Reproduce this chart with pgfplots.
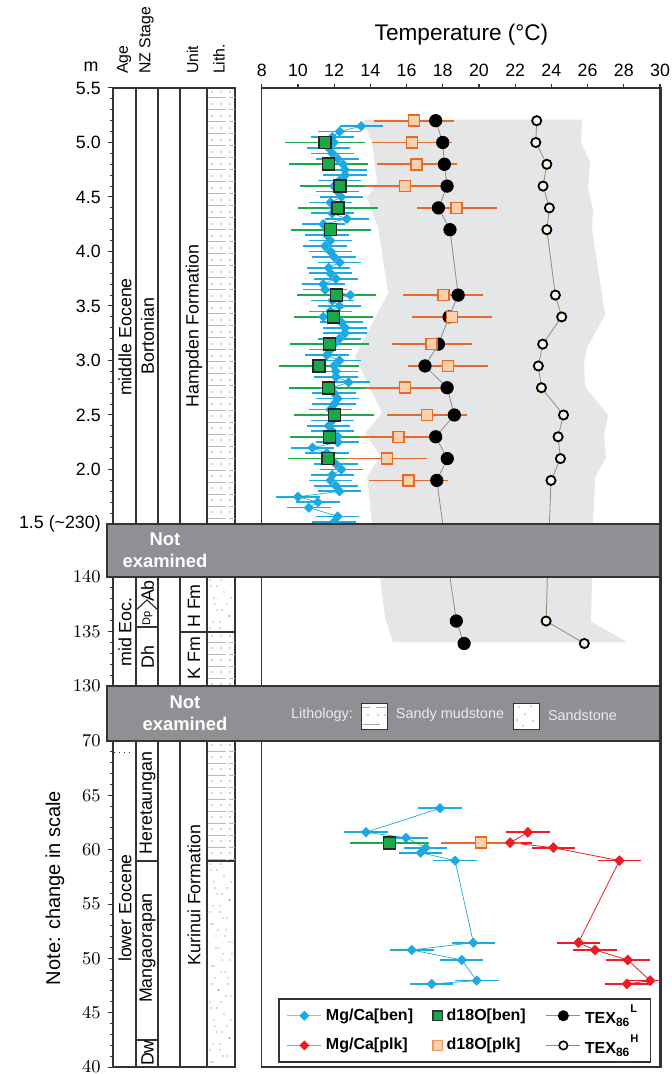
\documentclass[border=0pt]{standalone}
\usepackage{pgfplots}
\pgfplotsset{compat=1.18}
\usepackage{pgfplotstable}
\usepackage{fontspec}
\setmainfont{Liberation Sans}

\definecolor{mgben}{HTML}{1CA9E1}
\definecolor{mgplk}{HTML}{EC1C24}
\definecolor{gben}{HTML}{1BA84A}
\definecolor{oplk}{HTML}{E86A2A}
\definecolor{peach}{HTML}{FCD0A8}
\definecolor{texh}{HTML}{F7F4E6}
\definecolor{envel}{HTML}{E5E6E7}
\definecolor{band}{HTML}{8F9093}
\definecolor{frame}{HTML}{333333}
\definecolor{lighttxt}{HTML}{EBEBEB}

\newcommand\tickfont{\fontsize{8.9}{10.6}\selectfont}
\newcommand\headfont{\fontsize{7.9}{9.4}\selectfont}
\newcommand\legfont{\fontsize{8.0}{9.0}\selectfont\bfseries}

% ---------- data (x = temperature, y = height) ----------
\pgfplotstableread{
x y
13.5 5.15
12.3 5.10
11.9 5.05
12.0 5.00
11.7 4.95
11.9 4.90
12.2 4.85
12.5 4.80
12.6 4.75
12.6 4.70
12.3 4.65
12.0 4.60
12.2 4.55
12.4 4.50
11.8 4.45
12.0 4.40
11.9 4.35
12.7 4.30
11.4 4.25
11.6 4.20
11.6 4.15
11.8 4.10
11.5 4.05
11.8 4.00
12.0 3.95
12.3 3.90
11.7 3.85
11.8 3.80
12.1 3.75
11.4 3.70
11.5 3.65
12.9 3.60
11.9 3.55
12.3 3.50
11.8 3.45
11.4 3.40
12.4 3.35
12.6 3.30
12.6 3.25
12.3 3.20
12.0 3.15
11.8 3.10
11.6 3.05
12.3 3.00
12.0 2.95
12.1 2.90
12.1 2.85
12.8 2.80
11.9 2.75
12.0 2.70
12.2 2.65
12.0 2.60
11.8 2.55
12.1 2.50
11.9 2.45
11.7 2.40
11.9 2.35
12.2 2.30
12.2 2.25
10.8 2.20
11.6 2.15
11.8 2.10
12.1 2.05
12.4 2.00
11.9 1.95
11.8 1.90
12.1 1.85
12.3 1.80
10.0 1.75
11.1 1.70
10.6 1.65
12.2 1.57
12.0 1.52
}\mgbenU

\pgfplotstableread{
x y
11.50 5.00
11.68 4.80
12.34 4.60
12.23 4.40
11.81 4.20
12.14 3.60
11.96 3.40
11.75 3.15
11.15 2.95
11.68 2.75
12.01 2.50
11.74 2.30
11.66 2.10
}\gbenU

\pgfplotstableread{
x y
16.42 5.20
16.29 5.00
16.56 4.80
15.92 4.60
18.77 4.40
18.03 3.60
18.50 3.40
17.39 3.15
18.28 2.95
15.92 2.75
17.12 2.50
15.55 2.30
14.91 2.10
16.10 1.90
}\oplkU

\pgfplotstableread{
x y
17.61 5.20
18.00 5.00
18.09 4.80
18.24 4.60
17.76 4.40
18.40 4.20
18.85 3.60
18.35 3.40
17.76 3.15
17.02 2.95
18.24 2.75
18.64 2.50
17.61 2.30
18.25 2.10
17.67 1.90
}\texlU

\pgfplotstableread{
x y
23.19 5.20
23.14 5.00
23.75 4.80
23.54 4.60
23.89 4.40
23.75 4.20
24.22 3.60
24.57 3.40
23.52 3.15
23.28 2.95
23.45 2.75
24.67 2.50
24.37 2.30
24.50 2.10
23.98 1.90
}\texhU

\pgfplotstableread{
x y
18.75 135.96
19.18 133.90
}\texlM

\pgfplotstableread{
x y
23.71 135.96
25.82 133.90
}\texhM

\pgfplotstableread{
x y
17.85 63.81
13.76 61.60
15.97 61.10
17.06 60.18
16.78 59.72
18.68 58.99
19.69 51.44
16.29 50.77
19.05 49.85
19.88 47.95
17.39 47.64
}\mgbenL

\pgfplotstableread{
x y
22.70 61.60
21.72 60.64
24.11 60.18
27.76 58.99
25.49 51.44
26.41 50.77
28.22 49.85
29.45 47.95
28.17 47.64
}\mgplkL

\pgfplotsset{
  strat/.style={scale only axis, width=61pt, xmin=0, xmax=1, xtick=\empty,
    ytick pos=left, tick align=outside, major tick length=2.6pt, minor tick length=1.4pt,
    axis line style={line width=0.7pt, draw=frame}, tick style={frame, line width=0.5pt},
    yticklabel style={font=\tickfont}, minor y tick num=4, anchor=north west},
  panel/.style={scale only axis, width=199.15pt, xmin=8, xmax=30, ytick=\empty,
    axis line style={line width=0.7pt, draw=frame}, tick style={frame, line width=0.6pt},
    anchor=north west},
  mgb/.style={mgben, line width=0.35pt, mark=square*, mark size=1.7pt,
    mark options={rotate=45, fill=mgben, draw=mgben, line width=0.2pt},
    error bars/x dir=both, error bars/x fixed=1.2, error bars/error mark=none,
    error bars/error bar style={line width=0.85pt, mgben}},
  mgp/.style={mgplk, line width=0.4pt, mark=square*, mark size=1.8pt,
    mark options={rotate=45, fill=mgplk, draw=mgplk, line width=0.2pt},
    error bars/x dir=both, error bars/x fixed=1.2, error bars/error mark=none,
    error bars/error bar style={line width=0.85pt, mgplk}},
  gb/.style={only marks, mark=square*, mark size=3pt,
    mark options={fill=gben, draw=black!85, line width=0.8pt},
    error bars/x dir=both, error bars/x fixed=2.2, error bars/error mark=none,
    error bars/error bar style={line width=0.85pt, gben}},
  op/.style={only marks, mark=square*, mark size=2.75pt,
    mark options={fill=peach, draw=oplk, line width=0.75pt},
    error bars/x dir=both, error bars/x fixed=2.2, error bars/error mark=none,
    error bars/error bar style={line width=0.85pt, oplk}},
  tl/.style={only marks, mark=*, mark size=3.1pt, mark options={fill=black, draw=black}},
  th/.style={only marks, mark=*, mark size=2.3pt, mark options={fill=texh, draw=black, line width=0.9pt}},
  texline/.style={black!45, line width=0.4pt, mark=none},
}

\newcommand\mud[2]{%
  \pgfmathtruncatemacro\nrows{(#2-#1-5)/6}%
  \foreach \i in {0,...,\nrows}{%
    \pgfmathsetmacro\yy{#1+4+6*\i}%
    \ifodd\i
      \draw[gray!55, line width=0.5pt] (208,\yy) -- (226,\yy) (229,\yy) -- (234.5,\yy);
    \else
      \fill[black!75] (212,\yy) circle[radius=0.55] (221,\yy) circle[radius=0.55] (230,\yy) circle[radius=0.55];
    \fi
  }}
\newcommand\sand[2]{%
  \pgfmathtruncatemacro\nrows{(#2-#1-4)/6}%
  \foreach \i in {0,...,\nrows}{%
    \pgfmathsetmacro\yy{#1+3+6*\i}%
    \pgfmathsetmacro\xa{210+mod(\i*7,23)}%
    \pgfmathsetmacro\xb{210+mod(\i*13+11,23)}%
    \fill[black!60] (\xa,\yy) circle[radius=0.55] (\xb,\yy) circle[radius=0.55];
  }}

\begin{document}
\begin{tikzpicture}
\path[use as bounding box] (0pt,0pt) rectangle (335.5pt,-537pt);

% ---------- stratigraphic column axes ----------
\begin{axis}[strat, at={(56.5pt,-44pt)}, height=218pt, ymin=1.5, ymax=5.5,
  ytick={1.5,2.0,2.5,3.0,3.5,4.0,4.5,5.0,5.5},
  yticklabels={1.5 (\textasciitilde230),2.0,2.5,3.0,3.5,4.0,4.5,5.0,5.5}]
\end{axis}
\begin{axis}[strat, at={(56.5pt,-288.5pt)}, height=54.5pt, ymin=130, ymax=140,
  ytick={130,135,140}]
\end{axis}
\begin{axis}[strat, at={(56.5pt,-370.5pt)}, height=163pt, ymin=40, ymax=70,
  ytick={40,45,50,55,60,65,70}]
\end{axis}

% ---------- upper data panel ----------
\begin{axis}[panel, at={(130.85pt,-44pt)}, height=218pt, ymin=1.5, ymax=5.5,
  xtick={8,10,12,14,16,18,20,22,24,26,28,30}, xtick pos=right, xticklabel pos=right,
  tick align=outside, major tick length=2pt, xticklabel style={font=\tickfont},
  /pgf/number format/assume math mode=true]
\addplot[fill=envel, draw=none] coordinates {
 (13.60,5.21) (14.09,5.0) (14.37,4.63) (13.82,4.49) (14.43,4.22) (14.98,3.62)
 (13.15,3.03) (14.65,2.52) (13.71,2.33) (14.54,2.13) (13.82,1.93) (14.09,1.51) (14.12,1.40)
 (26.30,1.40) (26.30,1.51) (26.42,1.93) (27.02,2.11) (26.91,2.32) (27.13,2.50) (25.86,2.76)
 (25.81,2.98) (25.97,3.12) (26.97,3.42) (26.25,4.20) (26.30,4.38) (26.03,4.59) (26.14,4.82)
 (25.64,5.00) (25.70,5.21)} -- cycle;
\addplot[mgb] table {\mgbenU};
\addplot[gb] table {\gbenU};
\addplot[texline] table {\texlU};
\addplot[texline] coordinates {(17.67,1.90) (18.00,1.50)};
\addplot[texline] table {\texhU};
\addplot[texline] coordinates {(23.98,1.90) (23.89,1.50)};
\addplot[tl] table {\texlU};
\addplot[th] table {\texhU};
\addplot[op] table {\oplkU};
\end{axis}

% ---------- middle data panel ----------
\begin{axis}[panel, at={(130.85pt,-288.5pt)}, height=54.5pt, ymin=130, ymax=140, xtick=\empty]
\addplot[fill=envel, draw=none] coordinates {
 (14.50,140.5) (14.54,140.0) (14.81,136.3) (15.25,134.0)
 (28.24,134.0) (26.19,135.9) (26.25,140.0) (26.25,140.5)} -- cycle;
\addplot[texline] coordinates {(18.40,140.0) (18.75,135.96) (19.18,133.90)};
\addplot[texline] coordinates {(23.78,140.0) (23.71,135.96) (25.82,133.90)};
\addplot[tl] table {\texlM};
\addplot[th] table {\texhM};
\end{axis}

% ---------- lower data panel ----------
\begin{axis}[panel, at={(130.85pt,-370.5pt)}, height=163pt, ymin=40, ymax=70, xtick=\empty,
  legend columns=3, legend cell align=left,
  legend style={at={(0.041,0.012)}, anchor=south west, draw=frame, line width=0.8pt,
    font=\legfont, inner xsep=4pt, inner ysep=1pt, row sep=0pt,
    /tikz/every even column/.append style={column sep=8pt}}]
\addplot[forget plot, mgb] table {\mgbenL};
\addplot[forget plot, mgp] table {\mgplkL};
\addplot[forget plot, gb] coordinates {(15.05,60.64)};
\addplot[forget plot, op] coordinates {(20.12,60.64)};
\addlegendimage{mgben!60, line width=0.5pt, mark=square*, mark size=1.5pt, mark options={rotate=45, fill=mgben, draw=mgben}}
\addlegendentry{Mg/Ca[ben]}
\addlegendimage{only marks, mark=square*, mark size=2.4pt, mark options={fill=gben, draw=black!80, line width=0.6pt}}
\addlegendentry{d18O[ben]}
\addlegendimage{black!45, line width=0.5pt, mark=*, mark size=2.5pt, mark options={fill=black, draw=black}}
\addlegendentry{TEX\textsubscript{86}\raisebox{1.3ex}{\fontsize{5.6}{6}\selectfont L}}
\addlegendimage{mgplk!60, line width=0.5pt, mark=square*, mark size=1.5pt, mark options={rotate=45, fill=mgplk, draw=mgplk}}
\addlegendentry{Mg/Ca[plk]}
\addlegendimage{only marks, mark=square*, mark size=2.4pt, mark options={fill=peach, draw=oplk!70, line width=0.6pt}}
\addlegendentry{d18O[plk]}
\addlegendimage{black!45, line width=0.5pt, mark=*, mark size=2.1pt, mark options={fill=texh, draw=black, line width=0.8pt}}
\addlegendentry{TEX\textsubscript{86}\raisebox{1.3ex}{\fontsize{5.6}{6}\selectfont H}}
\end{axis}

% ---------- decorations in pixel units ----------
\begin{scope}[x=0.5pt, y=-0.5pt]
 % lithology patterns
 \mud{88}{524}
 \sand{577}{632}
 \mud{632}{686}
 \mud{741}{861}
 \sand{861}{1067}
 % column lines
 \foreach \cx in {136,158,180,207}{\draw[frame, line width=0.7pt] (\cx,88) -- (\cx,1067);}
 % boundaries
 \draw[frame, line width=0.6pt] (136,627) -- (158,627);
 \draw[frame, line width=0.6pt] (136,610) -- (147,600) -- (158,610);
 \draw[frame, line width=0.6pt] (180,632) -- (235,632);
 \draw[frame, line width=0.6pt] (136,861) -- (158,861);
 \draw[frame, line width=0.6pt] (207,861) -- (235,861);
 \draw[frame, line width=0.6pt] (136,1040) -- (158,1040);
 \draw[frame, line width=0.5pt, dotted] (114,752) -- (133,752);
 % column texts
 \node[rotate=90, font=\tickfont] at (125,337) {middle Eocene};
 \node[rotate=90, font=\tickfont] at (147.5,336) {Bortonian};
 \node[rotate=90, font=\tickfont] at (194,326) {Hampden Formation};
 \node[rotate=90, font=\tickfont] at (125,632) {mid Eoc.};
 \node[rotate=90, font=\tickfont] at (147.5,591) {Ab};
 \node[rotate=90, font=\fontsize{5.5}{6}\selectfont] at (147.5,618.5) {Dp};
 \node[rotate=90, font=\tickfont] at (147.5,657) {Dh};
 \node[rotate=90, font=\tickfont] at (194,606) {H Fm};
 \node[rotate=90, font=\tickfont] at (194,658) {K Fm};
 \node[rotate=90, font=\tickfont] at (125,908) {lower Eocene};
 \node[rotate=90, font=\tickfont] at (147.5,803) {Heretaungan};
 \node[rotate=90, font=\tickfont] at (147.5,948) {Mangaorapan};
 \node[rotate=90, font=\tickfont] at (147.5,1053) {Dw};
 \node[rotate=90, font=\tickfont] at (194,895) {Kurinui Formation};
 % headers
 \node[rotate=90, anchor=west, font=\headfont] at (124,81) {Age};
 \node[rotate=90, anchor=west, font=\headfont] at (146.5,81) {NZ Stage};
 \node[rotate=90, anchor=west, font=\headfont] at (192.5,81) {Unit};
 \node[rotate=90, anchor=west, font=\headfont] at (219,81) {Lith.};
 \node[font=\tickfont] at (91,67) {m};
 \node[font=\fontsize{11.3}{13}\selectfont] at (461.5,35) {Temperature (°C)};
 \node[rotate=90, font=\fontsize{10}{12}\selectfont] at (55,888) {Note: change in scale};
 % not-examined bands
 \draw[fill=band, draw=frame, line width=0.6pt] (107,524) rectangle (660,577);
 \draw[fill=band, draw=frame, line width=0.6pt] (107,686) rectangle (660,741);
 \node[align=center, text=white, font=\fontsize{9.2}{11}\selectfont\bfseries] at (165,550.5) {Not\\examined};
 \node[align=center, text=white, font=\fontsize{9.2}{11}\selectfont\bfseries] at (185,713.5) {Not\\examined};
 % lithology legend
 \node[text=lighttxt, font=\fontsize{7.2}{8.6}\selectfont] at (322,715) {Lithology:};
 \draw[fill=white, draw=frame, line width=0.4pt] (361,703) rectangle (387,729);
 \draw[gray!70, line width=0.5pt] (362,707) -- (370,707) (376,707) -- (386,707) (363,724) -- (380,724);
 \fill[black!75] (368,715) circle[radius=0.6] (378,715) circle[radius=0.6] (385,715) circle[radius=0.6];
 \node[text=lighttxt, font=\fontsize{7.2}{8.6}\selectfont] at (450,715) {Sandy mudstone};
 \draw[fill=white, draw=frame, line width=0.4pt] (513,703) rectangle (539,729);
 \fill[black!70] (519,707) circle[radius=0.6] (531,706) circle[radius=0.6] (525,714) circle[radius=0.6]
   (517,720) circle[radius=0.6] (533,721) circle[radius=0.6] (523,726) circle[radius=0.6];
 \node[text=lighttxt, font=\fontsize{7.2}{8.6}\selectfont] at (582.5,715) {Sandstone};
 % thick right frame
 \draw[frame, line width=1.2pt] (661,87.5) -- (661,1067.5);
\end{scope}
\end{tikzpicture}
\end{document}
